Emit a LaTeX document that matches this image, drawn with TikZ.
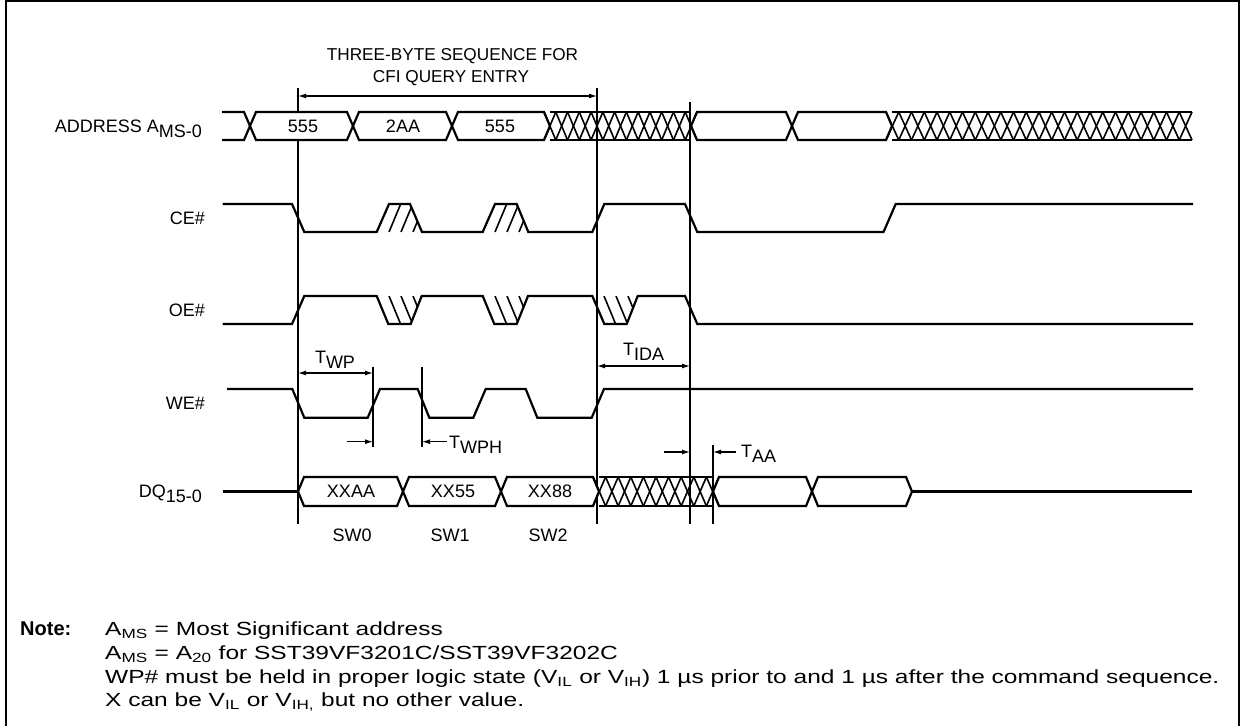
\documentclass[tikz,border=0pt]{standalone}
\usepackage{fontspec}
\setmainfont{Liberation Sans}
\usetikzlibrary{arrows.meta}
\tikzset{
  sig/.style={line width=2.2pt},
  hatchln/.style={line width=1.6pt},
  guide/.style={line width=1.2pt},
  dimone/.style={line width=1.2pt, arrows={-Latex[length=8pt,width=5pt]}},
  dimboth/.style={line width=1.2pt, arrows={Latex[length=8pt,width=5pt]-Latex[length=8pt,width=5pt]}},
  lbl/.style={font=\fontsize{18}{21}\selectfont, inner sep=0pt},
  ttl/.style={font=\fontsize{17.2}{20}\selectfont, inner sep=0pt},
  notetxt/.style={font=\fontsize{19}{22}\selectfont, inner sep=0pt, anchor=base west},
}
\newcommand{\lsub}[1]{\raisebox{-5pt}{#1}}
\newcommand{\nwide}[1]{\scalebox{1.29}[1]{#1}}
% hexagon value cell: x1 x2 top bot halfwidth
\newcommand{\hexseg}[5]{%
  \fill[white] (#1,{(#3+#4)/2}) -- ({#1+#5},#3) -- ({#2-#5},#3) -- (#2,{(#3+#4)/2}) -- ({#2-#5},#4) -- ({#1+#5},#4) -- cycle;
  \draw[sig] (#1,{(#3+#4)/2}) -- ({#1+#5},#3) -- ({#2-#5},#3) -- (#2,{(#3+#4)/2}) -- ({#2-#5},#4) -- ({#1+#5},#4) -- cycle;}
% cross-hatched (don't care) region: x1 x2 top bot cells
\newcommand{\xhatch}[5]{%
  \pgfmathsetmacro{\hp}{(#2-#1)/#5}
  \foreach \k in {1,...,#5}{
    \draw[hatchln] ({#1+(\k-1)*\hp},#3) -- ({#1+\k*\hp},#4);
    \draw[hatchln] ({#1+(\k-1)*\hp},#4) -- ({#1+\k*\hp},#3);}}
\begin{document}
\begin{tikzpicture}[x=1pt,y=-1pt]
\useasboundingbox (0,0) rectangle (1244,725);
% frame
\draw[line width=2pt] (5.5,730) -- (5.5,1.5) -- (1239,1.5) -- (1239,730);

% guide lines
\draw[guide] (298,88) -- (298,524);
\draw[guide] (597,88) -- (597,524);
\draw[guide] (690,102) -- (690,524);
\draw[guide] (373,367) -- (373,447);
\draw[guide] (422,367) -- (422,447);
\draw[guide] (713,445) -- (713,524);

% ---------- ADDRESS bus ----------
\draw[sig] (222,112) -- (244,112) -- (250,126);
\draw[sig] (222,140) -- (244,140) -- (250,126);
\hexseg{250}{353}{112}{140}{6}
\hexseg{353}{452}{112}{140}{6}
\hexseg{452}{550}{112}{140}{6}
\draw[sig] (550,112) -- (691,112);
\draw[sig] (550,140) -- (691,140);
\xhatch{544}{697}{112}{140}{13}
\draw[sig] (691,126) -- (697,112) -- (786,112) -- (792,126) -- (786,140) -- (697,140) -- cycle;
\draw[sig] (792,126) -- (798,112) -- (886,112) -- (892,126) -- (886,140) -- (798,140) -- cycle;
\draw[sig] (892,112) -- (1192,112);
\draw[sig] (892,140) -- (1192,140);
\xhatch{886}{1192}{112}{140}{24}
\node[lbl] (a1) at (303,126) {555};
\node[lbl] (a2) at (403,126) {2AA};
\node[lbl] (a3) at (500,126) {555};

% ---------- CE# ----------
\begin{scope}
  \clip (376.7,232) -- (389,204) -- (410,204) -- (422,232) -- cycle;
  \foreach \bx in {389,401,413} \draw[hatchln] (\bx,232) -- (\bx+11.7,204);
\end{scope}
\begin{scope}
  \clip (482.7,232) -- (495,204) -- (516.7,204) -- (528.3,232) -- cycle;
  \foreach \bx in {495,507,519} \draw[hatchln] (\bx,232) -- (\bx+11.7,204);
\end{scope}
\draw[sig] (222.7,204) -- (292,204) -- (304.3,232) -- (376.7,232) -- (389,204) -- (410,204) -- (422,232)
  -- (482.7,232) -- (495,204) -- (516.7,204) -- (528.3,232) -- (592.3,232) -- (604.3,204) -- (685,204)
  -- (697.3,232) -- (883.5,232) -- (895.7,204) -- (1193,204);

% ---------- OE# ----------
\begin{scope}
  \clip (376.7,296) -- (388.3,324) -- (410.7,324) -- (421.7,296) -- cycle;
  \foreach \tx in {389,401,413} \draw[hatchln] (\tx,296) -- (\tx+11.6,324);
\end{scope}
\begin{scope}
  \clip (482.7,296) -- (494.3,324) -- (516.7,324) -- (528,296) -- cycle;
  \foreach \tx in {495,507,519} \draw[hatchln] (\tx,296) -- (\tx+11.6,324);
\end{scope}
\begin{scope}
  \clip (592.3,296) -- (604.3,324) -- (626.7,324) -- (637.7,296) -- cycle;
  \foreach \tx in {604,616,628} \draw[hatchln] (\tx,296) -- (\tx+11.6,324);
\end{scope}
\draw[sig] (222.7,324) -- (292,324) -- (304.3,296) -- (376.7,296) -- (388.3,324) -- (410.7,324) -- (421.7,296)
  -- (482.7,296) -- (494.3,324) -- (516.7,324) -- (528,296) -- (592.3,296) -- (604.3,324) -- (626.7,324)
  -- (637.7,296) -- (685,296) -- (697.3,324) -- (1193,324);

% ---------- WE# ----------
\draw[sig] (227,389) -- (292.3,389) -- (304.3,417.7) -- (367.7,417.7) -- (380,389) -- (417.7,389) -- (429.3,417.7)
  -- (473.3,417.7) -- (485.7,389) -- (525.7,389) -- (537.3,417.7) -- (591.7,417.7) -- (604,389) -- (1193,389);

% ---------- DQ ----------
\draw[sig] (222.6,491.5) -- (298,491.5);
\hexseg{298}{403}{477}{506}{6}
\hexseg{403}{501}{477}{506}{6}
\hexseg{501}{599}{477}{506}{6}
\draw[sig] (599,477) -- (713,477);
\draw[sig] (599,506) -- (713,506);
\xhatch{593}{719}{477}{506}{10}
\draw[sig] (713,491.5) -- (719,477) -- (806,477) -- (812,491.5) -- (806,506) -- (719,506) -- cycle;
\draw[sig] (812,491.5) -- (818,477) -- (906,477) -- (912,491.5) -- (906,506) -- (818,506) -- cycle;
\draw[sig] (912,491.5) -- (1191.5,491.5);
\node[lbl] (d1) at (351,491.5) {XXAA};
\node[lbl] (d2) at (453,491.5) {XX55};
\node[lbl] (d3) at (550,491.5) {XX88};
\node[lbl] (s0) at (352,535) {SW0};
\node[lbl] (s1) at (450,535) {SW1};
\node[lbl] (s2) at (548,535) {SW2};

% ---------- signal names ----------
\node[lbl, anchor=base east] (nAddr) at (202,132.5) {ADDRESS A\lsub{MS-0}};
\node[lbl, anchor=east] (nCE) at (205,218) {CE\#};
\node[lbl, anchor=east] (nOE) at (205,310) {OE\#};
\node[lbl, anchor=east] (nWE) at (205,403) {WE\#};
\node[lbl, anchor=base east] (nDQ) at (202,497.5) {DQ\lsub{15-0}};

% ---------- dimensions ----------
\node[ttl] (seq1) at (452.5,56) {THREE-BYTE SEQUENCE FOR};
\node[ttl] (seq2) at (451,78) {CFI QUERY ENTRY};
\draw[dimboth] (298,96) -- (597,96);
\draw[dimboth] (298,373) -- (373,373);
\node[lbl, anchor=base] (twp) at (335,363.3) {T\lsub{WP}};
\draw[dimone] (347,441.7) -- (373,441.7);
\draw[dimone] (447,441.7) -- (422,441.7);
\node[lbl, anchor=base west] (twph) at (449,448.3) {T\lsub{WPH}};
\draw[dimboth] (597,366) -- (690,366);
\node[lbl, anchor=base west] (tida) at (623,355) {T\lsub{IDA}};
\draw[dimone] (664,452) -- (690,452);
\draw[dimone] (736,452) -- (713,452);
\node[lbl, anchor=base west] (taa) at (741,457) {T\lsub{AA}};

% ---------- note ----------
\node[notetxt, font=\bfseries\fontsize{20}{22}\selectfont] (note) at (20,635.5) {Note:};
\node[notetxt] (n1) at (105,635.5) {\nwide{A\textsubscript{MS} = Most Significant address}};
\node[notetxt] (n2) at (105,659.5) {\nwide{A\textsubscript{MS} = A\textsubscript{20} for SST39VF3201C/SST39VF3202C}};
\node[notetxt] (n3) at (105,683.5) {\nwide{WP\# must be held in proper logic state (V\textsubscript{IL} or V\textsubscript{IH}) 1 µs prior to and 1 µs after the command sequence.}};
\node[notetxt] (n4) at (105,706.5) {\nwide{X can be V\textsubscript{IL} or V\textsubscript{IH,} but no other value.}};
\end{tikzpicture}
\end{document}
